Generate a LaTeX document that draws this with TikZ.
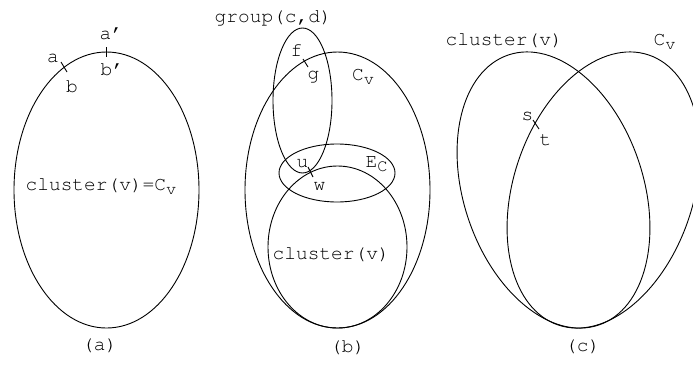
\documentclass[tikz,border=0pt]{standalone}
\usepackage[T1]{fontenc}
\usepackage{courier}
\newcommand\lbsub[1]{\raisebox{-4pt}{\fontsize{17}{17}\selectfont #1}}
\begin{document}
\begin{tikzpicture}[x=1pt,y=-1pt,
  ring/.style={line width=0.9pt},
  tick/.style={line width=0.9pt},
  lbl/.style={inner sep=0pt,anchor=base west,font=\fontsize{19.5}{20}\selectfont\ttfamily}]
\useasboundingbox (0,0) rectangle (693,365);
\clip (0,0) rectangle (693,365);
% (a)
\draw[ring] (106.5,190) ellipse [x radius=92.5, y radius=138];
\coordinate (t1a) at (61,62); \coordinate (t1b) at (67,72);
\draw[tick] (t1a) -- (t1b);
\coordinate (t2a) at (106,47); \coordinate (t2b) at (106,57);
\draw[tick] (t2a) -- (t2b);
\node[lbl] (la) at (47,62) {a};
\node[lbl] (lb) at (66,92) {b};
\node[lbl] (lap) at (99.5,39) {a'};
\node[lbl] (lbp) at (100.5,75) {b'};
\node[lbl] (cla) at (25.5,190) {cluster(v)=C\lbsub{v}};
\node[lbl] (capa) at (82,350) {(a)};
% (b)
\draw[ring] (337.5,190) ellipse [x radius=92.5, y radius=138];
\draw[ring] (302.5,100.5) ellipse [x radius=29.5, y radius=72.5];
\draw[ring] (337,173) ellipse [x radius=58, y radius=29];
\draw[ring] (337.5,247) ellipse [x radius=69.5, y radius=81];
\coordinate (t3a) at (303,59); \coordinate (t3b) at (308,67);
\draw[tick] (t3a) -- (t3b);
\coordinate (t4a) at (308,167); \coordinate (t4b) at (313,177);
\draw[tick] (t4a) -- (t4b);
\node[lbl] (grp) at (214.5,22) {group(c,d)};
\node[lbl] (lf) at (290.5,56) {f};
\node[lbl] (lg) at (307.5,79) {g};
\node[lbl] (cvb) at (352,80) {C\lbsub{v}};
\node[lbl] (lu) at (296.5,167) {u};
\node[lbl] (lw) at (313.5,190) {w};
\node[lbl] (ec) at (365.5,167) {E\lbsub{C}};
\node[lbl] (clb) at (272.5,259) {cluster(v)};
\node[lbl] (capb) at (330,352) {(b)};
% (c)
\draw[ring,rotate around={18.4:(553.5,190)}] (553.5,190) ellipse [x radius=89.9, y radius=142.4];
\draw[ring,rotate around={-18.4:(603.5,190)}] (603.5,190) ellipse [x radius=89.9, y radius=142.4];
\coordinate (t5a) at (533,120); \coordinate (t5b) at (539,129);
\draw[tick] (t5a) -- (t5b);
\node[lbl] (clc) at (445.5,45) {cluster(v)};
\node[lbl] (cvc) at (653.5,45) {C\lbsub{v}};
\node[lbl] (ls) at (521.5,120) {s};
\node[lbl] (lt) at (539.5,145) {t};
\node[lbl] (capc) at (565,351) {(c)};
\end{tikzpicture}
\end{document}
